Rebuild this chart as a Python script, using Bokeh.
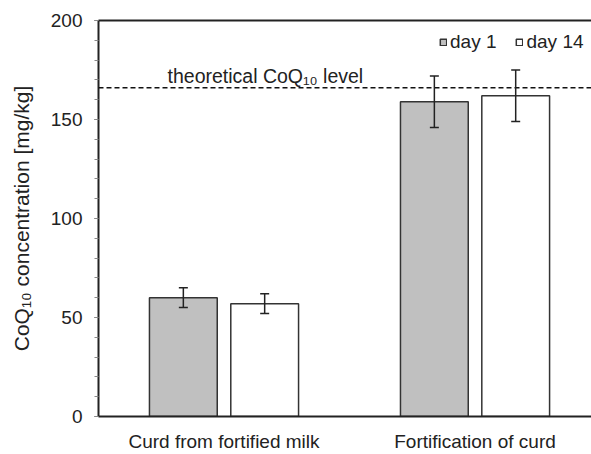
from bokeh.plotting import figure
from bokeh.models import (ColumnDataSource, Whisker, TeeHead, Span, Label, Legend,
                          LegendItem, LinearAxis, FixedTicker, Range1d)
from bokeh.embed import file_html
from bokeh.resources import INLINE

categories = ["Curd from fortified milk", "Fortification of curd"]
cat_pos = [0.5, 1.5]
day1 = [60, 159]
day1_err = [5, 13]
day14 = [57, 162]
day14_err = [5, 13]
theoretical = 166
series_names = ["day 1", "day 14"]

FONT = "Liberation Sans"
TXT = "#222222"
FS = "19px"

p = figure(width=591, height=454, output_backend="svg", toolbar_location=None,
           x_range=Range1d(0, 1.964), y_range=Range1d(0, 200),
           min_border_left=98, min_border_right=0, min_border_top=20, min_border_bottom=30)
p.outline_line_color = None
p.background_fill_color = "white"
p.xgrid.visible = False
p.ygrid.visible = False

off = 0.162
bw = 0.27
x1 = [c - off for c in cat_pos]
x2 = [c + off for c in cat_pos]
src1 = ColumnDataSource(dict(x=x1, top=day1, lo=[v - e for v, e in zip(day1, day1_err)],
                             hi=[v + e for v, e in zip(day1, day1_err)]))
src2 = ColumnDataSource(dict(x=x2, top=day14, lo=[v - e for v, e in zip(day14, day14_err)],
                             hi=[v + e for v, e in zip(day14, day14_err)]))

r1 = p.vbar(x="x", top="top", width=bw, source=src1, fill_color="#c0c0c0",
            line_color="#333333", line_width=1.5)
r2 = p.vbar(x="x", top="top", width=bw, source=src2, fill_color="white",
            line_color="#333333", line_width=1.5)

for s in (src1, src2):
    w = Whisker(base="x", upper="hi", lower="lo", source=s, level="overlay",
                line_color="#222222", line_width=1.5,
                upper_head=TeeHead(size=9, line_color="#222222", line_width=1.5),
                lower_head=TeeHead(size=9, line_color="#222222", line_width=1.5))
    p.add_layout(w)

p.add_layout(Span(location=theoretical, dimension="width", line_color="#111111",
                  line_width=1.5, line_dash="5 3"))
p.add_layout(Label(x=0.275, y=theoretical, text="theoretical CoQ\u2081\u2080 level",
                   x_offset=0, y_offset=1, text_font=FONT, text_font_size="19.5px",
                   text_color=TXT, text_baseline="bottom"))

# axes
p.yaxis.ticker = FixedTicker(ticks=[0, 50, 100, 150, 200],
                             minor_ticks=list(range(0, 201, 10)))
p.yaxis.axis_label = "CoQ\u2081\u2080 concentration [mg/kg]"
p.yaxis.axis_label_text_font = FONT
p.yaxis.axis_label_text_font_size = "21px"
p.yaxis.axis_label_text_font_style = "normal"
p.yaxis.axis_label_text_color = TXT
p.yaxis.axis_label_standoff = 15
p.yaxis.major_label_text_font = FONT
p.yaxis.major_label_text_font_size = FS
p.yaxis.major_label_text_color = TXT
p.yaxis.major_label_standoff = 12
p.yaxis.axis_line_width = 2
p.yaxis.axis_line_color = "#222222"
p.yaxis.major_tick_out = 4
p.yaxis.major_tick_in = 0
p.yaxis.minor_tick_out = 4
p.yaxis.minor_tick_in = 0
p.yaxis.major_tick_line_color = "#444444"
p.yaxis.minor_tick_line_color = "#888888"

p.xaxis.ticker = FixedTicker(ticks=cat_pos)
p.xaxis.major_label_overrides = {cat_pos[i]: categories[i] for i in range(2)}
p.xaxis.major_label_text_font = FONT
p.xaxis.major_label_text_font_size = FS
p.xaxis.major_label_text_color = TXT
p.xaxis.major_label_standoff = 8
p.xaxis.major_tick_line_color = None
p.xaxis.minor_tick_line_color = None
p.xaxis.axis_line_width = 2
p.xaxis.axis_line_color = "#222222"

top_axis = LinearAxis(ticker=FixedTicker(ticks=[]), axis_line_width=2,
                      axis_line_color="#222222", major_label_text_font_size="0px",
                      major_tick_line_color=None, minor_tick_line_color=None)
p.add_layout(top_axis, "above")

legend = Legend(items=[LegendItem(label=series_names[0], renderers=[r1]),
                       LegendItem(label=series_names[1], renderers=[r2])],
                orientation="horizontal", location=(341, 363),
                border_line_color=None, background_fill_alpha=0,
                glyph_width=8, glyph_height=8, label_text_font=FONT,
                label_text_font_size=FS, label_text_color=TXT,
                padding=0, spacing=19, label_standoff=3, margin=0,
                label_height=20)
p.add_layout(legend)

open("out.html", "w").write(file_html(p, INLINE))
